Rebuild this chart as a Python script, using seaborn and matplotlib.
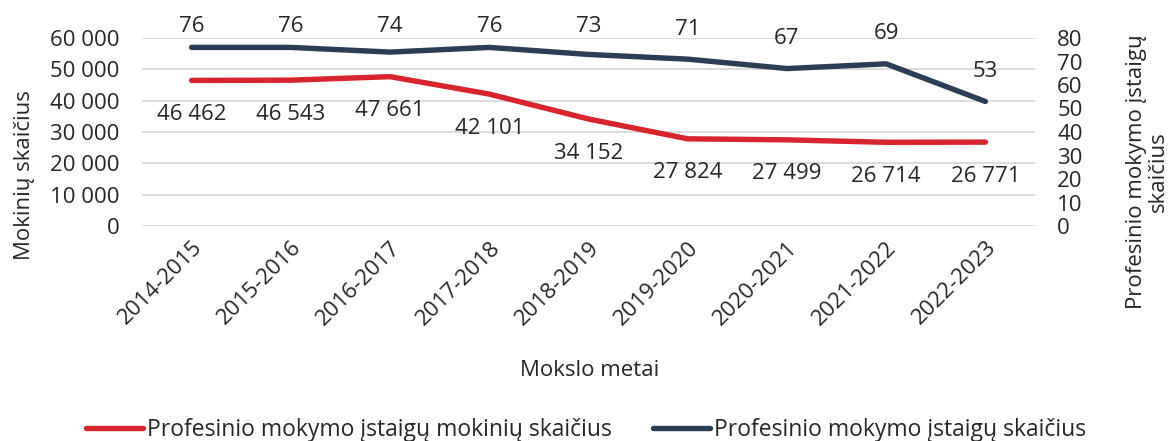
import matplotlib
matplotlib.use("Agg")
import matplotlib.pyplot as plt
import seaborn as sns
import pandas as pd
from matplotlib.ticker import FuncFormatter, MultipleLocator

years = ["2014-2015", "2015-2016", "2016-2017", "2017-2018", "2018-2019",
         "2019-2020", "2020-2021", "2021-2022", "2022-2023"]
students = [46462, 46543, 47661, 42101, 34152, 27824, 27499, 26714, 26771]
institutions = [76, 76, 74, 76, 73, 71, 67, 69, 53]

label_students = "Profesinio mokymo įstaigų mokinių skaičius"
label_inst = "Profesinio mokymo įstaigų skaičius"
red = "#d7242d"
navy = "#2c3e56"

sns.set_theme(style="white")
plt.rcParams['font.family'] = ['Open Sans', 'DejaVu Sans']

df = pd.DataFrame({"year": years, "students": students, "inst": institutions})
df["x"] = range(len(years))

W, H = 1172, 441
fig = plt.figure(figsize=(W / 100, H / 100), dpi=100)
ax_left, ax_right, ax_top, ax_bot = 142, 1035, 38, 226
ax = fig.add_axes([ax_left / W, 1 - ax_bot / H, (ax_right - ax_left) / W,
                   (ax_bot - ax_top) / H])
ax2 = ax.twinx()

sns.lineplot(data=df, x="x", y="students", ax=ax, color=red, linewidth=3.9,
             label=label_students, legend=False)
sns.lineplot(data=df, x="x", y="inst", ax=ax2, color=navy, linewidth=3.9,
             label=label_inst, legend=False)

fs = 16
ax.set_xlim(-0.5, len(years) - 0.5)
ax.set_ylim(0, 60000)
ax2.set_ylim(0, 80)
ax.yaxis.set_major_locator(MultipleLocator(10000))
ax2.yaxis.set_major_locator(MultipleLocator(10))
fmt = FuncFormatter(lambda v, p: f"{int(v):,}".replace(",", " "))
ax.yaxis.set_major_formatter(fmt)
ax.set_xticks(df["x"])
ax.set_xticklabels(years, rotation=45, ha="right", rotation_mode="anchor",
                   fontsize=fs)
ax.tick_params(axis="y", labelsize=fs, length=0, pad=16)
ax2.tick_params(axis="y", labelsize=fs, length=0, pad=16)
ax.tick_params(axis="x", length=0, pad=8)

ax.grid(axis="y", color="#d9d9d9", linewidth=1.3)
ax.set_axisbelow(True)
for a in (ax, ax2):
    for s in a.spines.values():
        s.set_visible(False)

ax_h = ax_bot - ax_top
ax_w = ax_right - ax_left
ax.set_xlabel("Mokslo metai", fontsize=fs)
ax.xaxis.set_label_coords((590 - ax_left) / ax_w, (ax_bot - 360) / ax_h)
ax.set_ylabel("Mokinių skaičius", fontsize=fs, va="center")
ax.yaxis.set_label_coords((25 - ax_left) / ax_w, (ax_bot - 175) / ax_h)
ax2.set_ylabel("Profesinio mokymo įstaigų\nskaičius", fontsize=fs,
               linespacing=1.05, rotation=90, va="center", ha="center")
ax2.yaxis.set_label_coords((1147 - ax_left) / ax_w, (ax_bot - 172) / ax_h)

for xi, v in zip(df["x"], students):
    ax.annotate(f"{v:,}".replace(",", " "), (xi, v), xytext=(0, -24.5),
                textcoords="offset points", ha="center", va="center", fontsize=fs)

top_limit = (ax_bot - 27) / ax_h  # labels stay inside the chart area
for xi, v in zip(df["x"], institutions):
    yfrac = min(v / 80 + 30 / ax_h, top_limit)
    ax2.annotate(str(v), xy=(xi, yfrac), xycoords=("data", "axes fraction"),
                 ha="center", va="center", fontsize=fs, annotation_clip=False)

h1, l1 = ax.get_legend_handles_labels()
h2, l2 = ax2.get_legend_handles_labels()
fig.legend(h1 + h2, l1 + l2, loc="center", bbox_to_anchor=(586 / W, 1 - 430 / H),
           ncol=2, frameon=False, fontsize=fs + 0.5, handlelength=2.5,
           handletextpad=0.15, columnspacing=1.8, borderaxespad=0)

fig.savefig("out.png", dpi=100)
